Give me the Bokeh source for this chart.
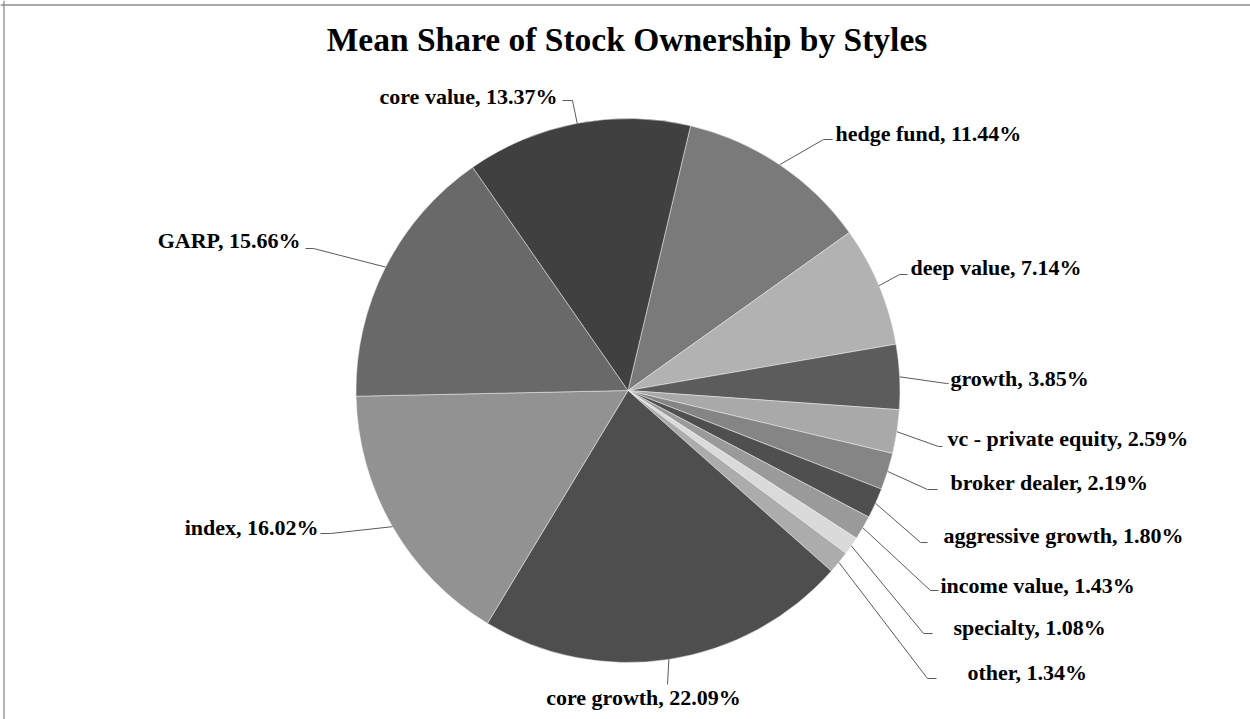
import math
from bokeh.plotting import figure
from bokeh.models import ColumnDataSource, Range1d, Label, Span
from bokeh.core.properties import value
from bokeh.embed import file_html
from bokeh.resources import INLINE

# ---- data (clockwise from the first slice) ----
categories = ["hedge fund", "deep value", "growth", "vc - private equity", "broker dealer",
              "aggressive growth", "income value", "specialty", "other", "core growth",
              "index", "GARP", "core value"]
shares = [11.44, 7.14, 3.85, 2.59, 2.19, 1.80, 1.43, 1.08, 1.34, 22.09, 16.02, 15.66, 13.37]
colors = ["#7a7a7a", "#b2b2b2", "#5c5c5c", "#a9a9a9", "#858585", "#4f4f4f", "#9a9a9a",
          "#dadada", "#acacac", "#4e4e4e", "#929292", "#696969", "#404040"]
title_text = "Mean Share of Stock Ownership by Styles"

# ---- layout (screen pixels) ----
W, H = 1250, 719
CX, CY, R = 627.5, 390, 272
FIRST_ANGLE = 13.3  # degrees clockwise from 12 o'clock

# label anchor (screen px) and alignment
label_pos = [(835, 133, "left"), (910, 267, "left"), (950, 378, "left"), (947, 438, "left"),
             (950, 482, "left"), (943, 535, "left"), (940, 585, "left"), (953, 627, "left"),
             (967, 672, "left"), (643, 697, "center"), (318, 527, "right"), (300, 240, "right"),
             (557, 96, "right")]
# leader line elbow and end points (screen px)
leader_pts = [((823, 139), (832, 139)), ((899, 274), (907, 274)), ((946, 383), (948, 383)),
              ((938, 446), (942, 446)), ((927, 489), (937, 489)), ((920, 542), (927, 542)),
              ((930, 590), (938, 590)), ((923, 633), (932, 633)), ((927, 678), (936, 678)),
              ((667, 684), (667, 684)), ((330, 533), (320, 533)), ((313, 248), (305, 248)),
              ((572, 100), (562, 100))]


def fy(sy):
    return H - sy


p = figure(width=W, height=H, output_backend="svg", toolbar_location=None,
           x_range=Range1d(0, W), y_range=Range1d(0, H), min_border=0)
p.axis.visible = False
p.grid.visible = False
p.outline_line_color = None
p.background_fill_color = "white"
p.border_fill_color = "white"

total = sum(shares)
starts, ends, mids = [], [], []
acc = FIRST_ANGLE
for s in shares:
    th0 = acc
    th1 = acc + s / total * 360.0
    starts.append(math.radians(90 - th1))
    ends.append(math.radians(90 - th0))
    mids.append((th0 + th1) / 2)
    acc = th1

src = ColumnDataSource(dict(start=starts, end=ends, color=colors,
                            x=[CX] * len(shares), y=[fy(CY)] * len(shares)))
p.wedge(x="x", y="y", radius=R, start_angle="start", end_angle="end", direction="anticlock",
        fill_color="color", line_color="#f0f0f0", line_width=0.5, source=src)

# leader lines
xs, ys = [], []
for th, (e1, e2) in zip(mids, leader_pts):
    sx = CX + R * math.sin(math.radians(th))
    sy = CY - R * math.cos(math.radians(th))
    xs.append([sx, e1[0], e2[0]])
    ys.append([fy(sy), fy(e1[1]), fy(e2[1])])
p.multi_line(xs=xs, ys=ys, line_color="#5a5a5a", line_width=1)

# data labels
lab = ColumnDataSource(dict(
    x=[lp[0] for lp in label_pos],
    y=[fy(lp[1]) for lp in label_pos],
    align=[lp[2] for lp in label_pos],
    text=[f"{c}, {v:.2f}%" for c, v in zip(categories, shares)],
))
p.text(x="x", y="y", text="text", text_align="align", text_baseline="middle",
       text_font=value("Liberation Serif"), text_font_style="bold",
       text_font_size="22px", text_color="black", source=lab)

# title
p.add_layout(Label(x=626.5, y=fy(39), text=title_text, text_align="center",
                   text_baseline="middle", text_font="Liberation Serif",
                   text_font_style="bold", text_font_size="33.5px", text_color="black"))

# chart border (left and top visible)
p.add_layout(Span(location=3.5, dimension="height", line_color="#8c8c8c", line_width=1.3))
p.add_layout(Span(location=fy(4.5), dimension="width", line_color="#8c8c8c", line_width=1.3))

open("out.html", "w").write(file_html(p, INLINE))
